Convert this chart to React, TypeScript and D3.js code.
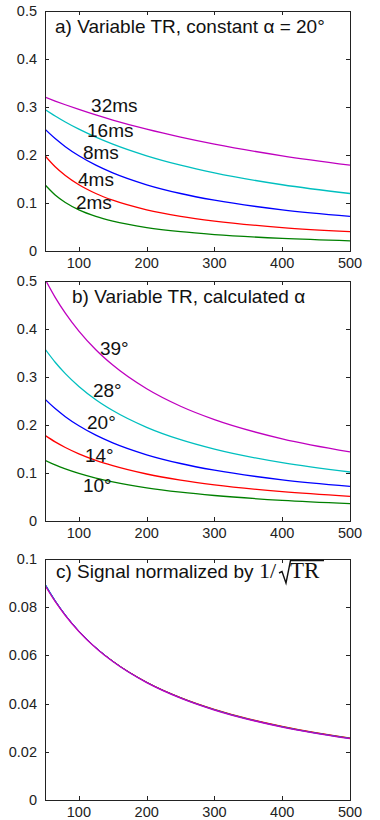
import React from "react";
import * as d3 from "d3";

// T1 (ms) sample points shared by every curve
const t1Values = [50, 65, 80, 100, 125, 150, 200, 250, 300, 400, 500];

// a) constant flip angle 20 deg, TR = 2..32 ms
const constTR2 = [0.138, 0.1167, 0.1011, 0.0858, 0.0722, 0.0623, 0.0489, 0.0402, 0.0342, 0.0263, 0.0213];
const constTR4 = [0.1984, 0.1754, 0.1572, 0.138, 0.1198, 0.1058, 0.0858, 0.0722, 0.0623, 0.0489, 0.0402];
const constTR8 = [0.2538, 0.2342, 0.2174, 0.1984, 0.1789, 0.1628, 0.138, 0.1198, 0.1058, 0.0858, 0.0722];
const constTR16 = [0.2949, 0.2813, 0.2688, 0.2538, 0.2373, 0.2227, 0.1984, 0.1789, 0.1628, 0.138, 0.1198];
const constTR32 = [0.3205, 0.3124, 0.3047, 0.2949, 0.2834, 0.2728, 0.2538, 0.2373, 0.2227, 0.1984, 0.1789];

// b) calculated flip angle
const calcTR2 = [0.1265, 0.1168, 0.1085, 0.0991, 0.0894, 0.0815, 0.0691, 0.0601, 0.0531, 0.0431, 0.0363];
const calcTR4 = [0.1783, 0.1648, 0.1532, 0.14, 0.1264, 0.1153, 0.0979, 0.0851, 0.0753, 0.0612, 0.0515];
const calcTR8 = [0.2538, 0.2342, 0.2174, 0.1984, 0.1789, 0.1628, 0.138, 0.1198, 0.1058, 0.0858, 0.0722];
const calcTR16 = [0.3583, 0.3308, 0.3071, 0.2804, 0.2528, 0.2302, 0.1952, 0.1694, 0.1497, 0.1214, 0.1021];
const calcTR32 = [0.504, 0.466, 0.4331, 0.3956, 0.3568, 0.3249, 0.2755, 0.2391, 0.2112, 0.1712, 0.144];

// c) normalized signal (curves lie on top of each other)
const normTR2 = [0.08945, 0.08259, 0.07672, 0.07007, 0.06322, 0.05763, 0.04886, 0.0425, 0.03755, 0.03048, 0.02567];
const normTR4 = [0.08915, 0.0824, 0.0766, 0.07, 0.0632, 0.05765, 0.04895, 0.04255, 0.03765, 0.0306, 0.02575];
const normTR8 = [0.08973, 0.0828, 0.07686, 0.07015, 0.06325, 0.05756, 0.04879, 0.04236, 0.03741, 0.03034, 0.02553];
const normTR16 = [0.08958, 0.0827, 0.07678, 0.0701, 0.0632, 0.05755, 0.0488, 0.04235, 0.03743, 0.03035, 0.02553];
const normTR32 = [0.0891, 0.08238, 0.07656, 0.06993, 0.06307, 0.05743, 0.0487, 0.04227, 0.03733, 0.03026, 0.02546];

const trLabels = ["2ms", "4ms", "8ms", "16ms", "32ms"];
const angleLabels = ["10°", "14°", "20°", "28°", "39°"];
// label anchor points in data units [T1, signal]
const trLabelPos = [[95.7, 0.0875], [98.7, 0.1354], [106, 0.1917], [112, 0.2375], [118, 0.2896]];
const angleLabelPos = [[106, 0.0604], [109, 0.1229], [112, 0.1917], [120.8, 0.2583], [131, 0.3458]];

const xTicks = [100, 200, 300, 400, 500];
const yTicksAB = [0, 0.1, 0.2, 0.3, 0.4, 0.5];
const yTicksC = [0, 0.02, 0.04, 0.06, 0.08, 0.1];

// old matlab color order, one per TR: 2, 4, 8, 16, 32 ms
const colors = ["#008000", "#ff0000", "#0000ff", "#00bfbf", "#bf00bf"];

const SANS = "'Liberation Sans', Arial, Helvetica, sans-serif";
const SERIF = "'Liberation Serif', 'Times New Roman', serif";
const LEFT = 45;
const RIGHT = 350;

type PanelProps = {
  id: string;
  top: number;
  bottom: number;
  yMax: number;
  yTicks: number[];
  series: number[][];
  labels?: string[];
  labelPos?: number[][];
  overlap?: boolean;
  title: React.ReactNode;
};

const Panel = ({ id, top, bottom, yMax, yTicks, series, labels, labelPos, overlap, title }: PanelProps) => {
  const x = d3.scaleLinear().domain([50, 500]).range([LEFT, RIGHT]);
  const y = d3.scaleLinear().domain([0, yMax]).range([bottom, top]);
  const line = d3
    .line<number>()
    .x((_, i) => x(t1Values[i]))
    .y((d) => y(d))
    .curve(d3.curveMonotoneX);
  const fmt = d3.format("~g");
  const tk = 4;

  return (
    <g>
      <defs>
        <clipPath id={`clip-${id}`}>
          <rect x={LEFT} y={top} width={RIGHT - LEFT} height={bottom - top} />
        </clipPath>
      </defs>
      <g clipPath={`url(#clip-${id})`}>
        {series.map((s, i) => (
          <path
            key={i}
            d={line(s) || ""}
            fill="none"
            stroke={colors[i]}
            strokeWidth={overlap && i < series.length - 1 ? 0.9 : 1.3}
          />
        ))}
      </g>
      <rect
        x={LEFT + 0.5}
        y={top + 0.5}
        width={RIGHT - LEFT}
        height={bottom - top}
        fill="none"
        stroke="#222"
        strokeWidth={1}
      />
      {xTicks.map((t) => (
        <g key={`x${t}`}>
          <line x1={Math.round(x(t)) + 0.5} x2={Math.round(x(t)) + 0.5} y1={bottom} y2={bottom - tk} stroke="#222" />
          <line x1={Math.round(x(t)) + 0.5} x2={Math.round(x(t)) + 0.5} y1={top} y2={top + tk} stroke="#222" />
          <text x={x(t)} y={bottom + 17} textAnchor="middle" fontFamily={SANS} fontSize={14.5} fill="#222">
            {fmt(t)}
          </text>
        </g>
      ))}
      {yTicks.map((t) => (
        <g key={`y${t}`}>
          <line x1={LEFT} x2={LEFT + tk} y1={Math.round(y(t)) + 0.5} y2={Math.round(y(t)) + 0.5} stroke="#222" />
          <line x1={RIGHT} x2={RIGHT - tk} y1={Math.round(y(t)) + 0.5} y2={Math.round(y(t)) + 0.5} stroke="#222" />
          <text x={37} y={y(t) + 5} textAnchor="end" fontFamily={SANS} fontSize={14.5} fill="#222">
            {fmt(t)}
          </text>
        </g>
      ))}
      {labels &&
        labelPos &&
        labels.map((l, i) => (
          <text key={l} x={x(labelPos[i][0])} y={y(labelPos[i][1])} fontFamily={SANS} fontSize={19} fill="#111">
            {l}
          </text>
        ))}
      {title}
    </g>
  );
};

export default function App() {
  return (
    <svg width={380} height={820} style={{ position: "absolute", left: 0, top: 0, background: "#fff" }}>
      <Panel
        id="a"
        top={11}
        bottom={251}
        yMax={0.5}
        yTicks={yTicksAB}
        series={[constTR2, constTR4, constTR8, constTR16, constTR32]}
        labels={trLabels}
        labelPos={trLabelPos}
        title={
          <text x={55} y={33} fontFamily={SANS} fontSize={19} fill="#111">
            a) Variable TR, constant α = 20°
          </text>
        }
      />
      <Panel
        id="b"
        top={281}
        bottom={521}
        yMax={0.5}
        yTicks={yTicksAB}
        series={[calcTR2, calcTR4, calcTR8, calcTR16, calcTR32]}
        labels={angleLabels}
        labelPos={angleLabelPos}
        title={
          <text x={72} y={303} fontFamily={SANS} fontSize={19} fill="#111">
            b) Variable TR, calculated α
          </text>
        }
      />
      <Panel
        id="c"
        top={559}
        bottom={800}
        yMax={0.1}
        yTicks={yTicksC}
        series={[normTR2, normTR4, normTR8, normTR16, normTR32]}
        overlap
        title={
          <g>
            <text x={56} y={578} fontFamily={SANS} fontSize={19} fill="#111">
              c) Signal normalized by
            </text>
            <text x={259} y={578} fontFamily={SERIF} fontSize={22} fill="#111">
              1/
            </text>
            <path
              d="M279,573 L282,571.5 L286,583 L290.5,560.5 L324,560.5"
              fill="none"
              stroke="#111"
              strokeWidth={1.4}
            />
            <text x={290} y={578} fontFamily={SERIF} fontSize={23} fill="#111">
              TR
            </text>
          </g>
        }
      />
    </svg>
  );
}
